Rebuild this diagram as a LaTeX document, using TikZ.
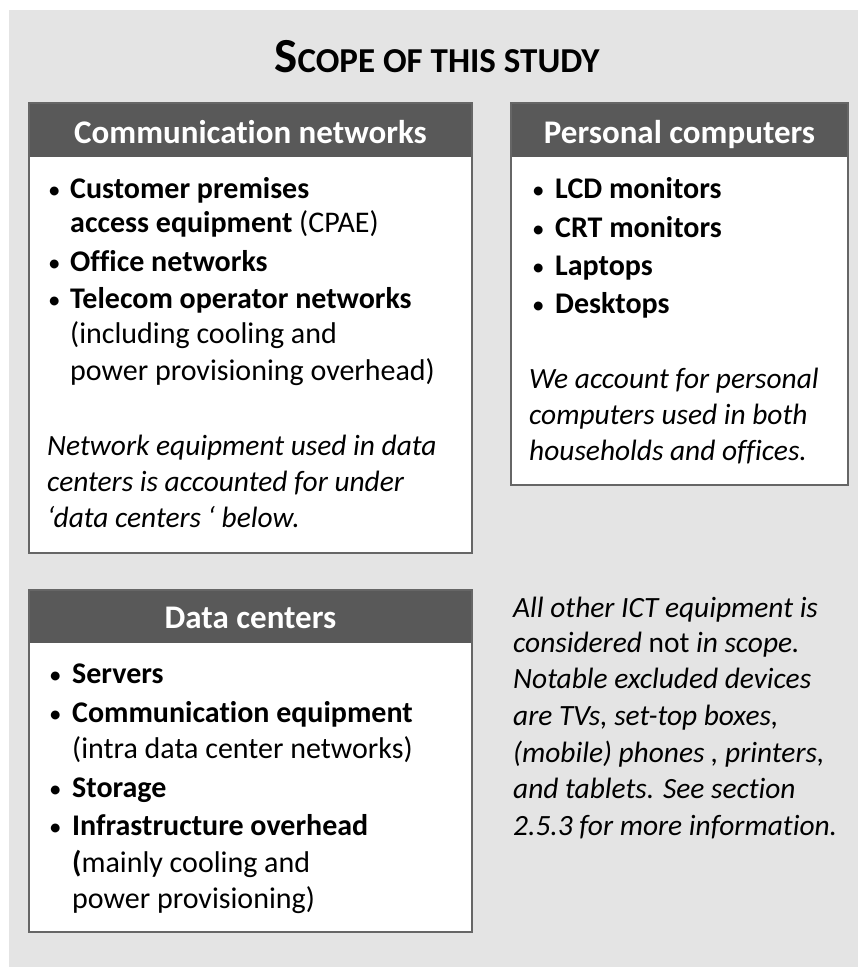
\documentclass[tikz,border=0pt]{standalone}
\usepackage{fontspec}
\setmainfont{Carlito}[Ligatures=NoCommon]
\definecolor{pagegray}{HTML}{E4E4E4}
\definecolor{headgray}{HTML}{595959}
\definecolor{edgegray}{HTML}{666666}
\newcommand{\bodysize}{\fontsize{30}{36}\selectfont}
\newcommand{\notesize}{\fontsize{29.4}{36}\selectfont}
\newcommand{\headsize}{\fontsize{33}{40}\selectfont}
\begin{document}
\begin{tikzpicture}[x=1pt,y=-1pt,
  panel/.style={draw=edgegray, line width=2pt, fill=white, anchor=north west, inner sep=0, outer sep=0},
  header/.style={fill=headgray, anchor=north west, inner sep=0, outer sep=0},
  rim/.style={draw=edgegray, line width=2pt, anchor=north west, inner sep=0, outer sep=0},
  headtext/.style={anchor=base, inner sep=0, text=white, font=\headsize\bfseries},
  line/.style={anchor=base west, inner sep=0, font=\bodysize},
  note/.style={anchor=base west, inner sep=0, font=\notesize\itshape},
  bul/.style={anchor=base west, inner sep=0, font=\fontsize{25}{30}\selectfont}]
\useasboundingbox (0,0) rectangle (858,967);
\fill[pagegray] (9,10) rectangle (858,967);

% title
\node[anchor=base, inner sep=0, font=\bfseries] (title) at (437,72)
  {\fontsize{49}{56}\selectfont S\fontsize{35}{42}\selectfont COPE OF THIS STUDY};

% panel: communication networks
\node[panel, minimum width=443pt, minimum height=450pt] (comm) at (29,103) {};
\node[header, minimum width=443pt, minimum height=54pt] (commhead) at (29,103) {};
\node[rim, minimum width=443pt, minimum height=450pt] (commedge) at (29,103) {};
\node[headtext] (commtitle) at (250.5,143) {Communication networks};
\node[bul] (cb1) at (48,198) {•};
\node[line] (c1) at (70,198) {\textbf{Customer premises}};
\node[line] (c2) at (70,232) {\textbf{access equipment} (CPAE)};
\node[bul] (cb2) at (48,271) {•};
\node[line] (c3) at (70,271) {\textbf{Office networks}};
\node[bul] (cb3) at (48,308) {•};
\node[line] (c4) at (70,308) {\textbf{Telecom operator networks}};
\node[line] (c5) at (70,343) {(including cooling and};
\node[line] (c6) at (70,380) {power provisioning overhead)};
\node[note] (cn1) at (47,455) {Network equipment used in data};
\node[note] (cn2) at (47,491) {centers is accounted for under};
\node[note] (cn3) at (47,527) {‘data centers ‘ below.};

% panel: personal computers
\node[panel, minimum width=337pt, minimum height=382pt] (pc) at (511,103) {};
\node[header, minimum width=337pt, minimum height=54pt] (pchead) at (511,103) {};
\node[rim, minimum width=337pt, minimum height=382pt] (pcedge) at (511,103) {};
\node[headtext] (pctitle) at (679.5,143) {Personal computers};
\node[bul] (pb1) at (532,198) {•};
\node[line] (p1) at (555,198) {\textbf{LCD monitors}};
\node[bul] (pb2) at (532,237) {•};
\node[line] (p2) at (555,237) {\textbf{CRT monitors}};
\node[bul] (pb3) at (532,275) {•};
\node[line] (p3) at (555,275) {\textbf{Laptops}};
\node[bul] (pb4) at (532,313) {•};
\node[line] (p4) at (555,313) {\textbf{Desktops}};
\node[note] (pn1) at (529,388) {We account for personal};
\node[note] (pn2) at (529,424) {computers used in both};
\node[note] (pn3) at (529,460) {households and offices.};

% panel: data centers
\node[panel, minimum width=443pt, minimum height=342pt] (dc) at (29,590) {};
\node[header, minimum width=443pt, minimum height=53pt] (dchead) at (29,590) {};
\node[rim, minimum width=443pt, minimum height=342pt] (dcedge) at (29,590) {};
\node[headtext] (dctitle) at (250.5,628) {Data centers};
\node[bul] (db1) at (49,683) {•};
\node[line] (d1) at (72,683) {\textbf{Servers}};
\node[bul] (db2) at (49,722) {•};
\node[line] (d2) at (72,722) {\textbf{Communication equipment}};
\node[line] (d3) at (72,758) {(intra data center networks)};
\node[bul] (db3) at (49,797) {•};
\node[line] (d4) at (72,797) {\textbf{Storage}};
\node[bul] (db4) at (49,835) {•};
\node[line] (d5) at (72,835) {\textbf{Infrastructure overhead}};
\node[line] (d6) at (72,872) {\textbf{(}mainly cooling and};
\node[line] (d7) at (72,908) {power provisioning)};

% free-standing note
\node[note] (o1) at (513,617) {All other ICT equipment is};
\node[note] (o2) at (513,652) {considered \upshape not \itshape in scope.};
\node[note] (o3) at (513,688) {Notable excluded devices};
\node[note] (o4) at (513,725) {are TVs, set-top boxes,};
\node[note] (o5) at (513,762) {(mobile) phones , printers,};
\node[note] (o6) at (513,798) {and tablets. See section};
\node[note] (o7) at (513,835) {2.5.3 for more information.};
\end{tikzpicture}
\end{document}
